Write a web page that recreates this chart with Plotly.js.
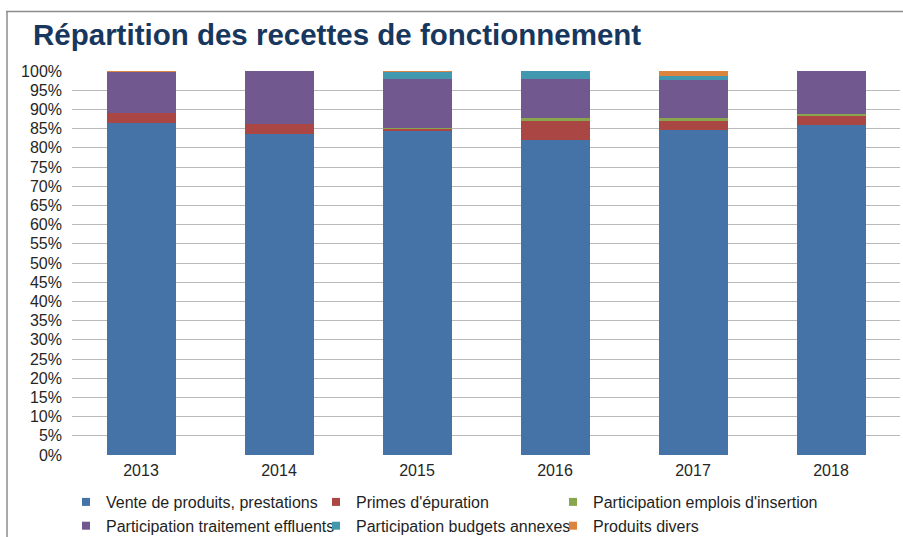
<!DOCTYPE html>
<html>
<head>
<meta charset="utf-8">
<script src="https://cdn.plot.ly/plotly-3.0.1.min.js"></script>
<style>html,body{margin:0;padding:0;background:#fff;}#chart{width:903px;height:537px;}</style>
</head>
<body>
<div id="chart"></div>
<script>
const years = ['2013', '2014', '2015', '2016', '2017', '2018'];
const venteProduits = [86.5, 83.6, 84.4, 82.1, 84.7, 86.0];
const primesEpuration = [2.6, 2.6, 0.4, 5.0, 2.4, 2.4];
const emploisInsertion = [0.0, 0.0, 0.4, 0.6, 0.6, 0.5];
const traitementEffluents = [10.6, 13.8, 12.8, 10.1, 9.9, 11.1];
const budgetsAnnexes = [0.0, 0.0, 1.7, 2.1, 1.1, 0.0];
const produitsDivers = [0.3, 0.0, 0.3, 0.1, 1.3, 0.0];
const yTicks = [0,5,10,15,20,25,30,35,40,45,50,55,60,65,70,75,80,85,90,95,100];

const series = [
  {name: 'Vente de produits, prestations', y: venteProduits, color: '#4572A7', legend: 'legend'},
  {name: "Primes d'épuration", y: primesEpuration, color: '#AA4643', legend: 'legend2'},
  {name: "Participation emplois d'insertion", y: emploisInsertion, color: '#89A54E', legend: 'legend3'},
  {name: 'Participation traitement effluents', y: traitementEffluents, color: '#71588F', legend: 'legend'},
  {name: 'Participation budgets annexes', y: budgetsAnnexes, color: '#4198AF', legend: 'legend2'},
  {name: 'Produits divers', y: produitsDivers, color: '#DB843D', legend: 'legend3'}
];

const barTraces = series.map(s => ({
  type: 'bar', x: years, y: s.y, name: s.name, legendgroup: s.name,
  marker: {color: s.color, line: {width: 0}}, showlegend: false
}));
// legend-only keys (small squares, as in the original); their point lies below the visible range and is clipped
const keyTraces = series.map(s => ({
  type: 'scatter', mode: 'markers', x: [years[0]], y: [-50], name: s.name, legendgroup: s.name,
  legend: s.legend, cliponaxis: true, marker: {symbol: 'square', size: 8, color: s.color},
  showlegend: true, hoverinfo: 'skip'
}));

const baseLegend = {orientation: 'v', xref: 'container', xanchor: 'left', yref: 'container', yanchor: 'top',
  y: 1 - 485/537, font: {size: 16, color: '#1F1F1F'}, itemwidth: 30, tracegroupgap: 3, bgcolor: 'rgba(0,0,0,0)', traceorder: 'normal'};

const layout = {
  width: 903, height: 537,
  barmode: 'stack', bargap: 0.5,
  paper_bgcolor: '#fff', plot_bgcolor: '#fff',
  margin: {l: 72, r: 3, t: 70.5, b: 82, autoexpand: false},
  font: {family: 'Arial, Liberation Sans, sans-serif', size: 16, color: '#262626'},
  title: {text: 'Répartition des recettes de fonctionnement', x: 33/903, xanchor: 'left', xref: 'container',
          y: 1 - 35/537, yanchor: 'middle', yref: 'container',
          font: {family: 'Arial, Liberation Sans, sans-serif', size: 29.5, color: '#17375E', weight: 'bold'}},
  xaxis: {type: 'category', showgrid: false, showline: false, zeroline: false, ticks: '',
          ticklabelstandoff: 4, tickfont: {size: 16}},
  yaxis: {range: [0, 100], autorange: false, tickvals: yTicks, ticktext: yTicks.map(v => v + '%'),
          showgrid: true, gridcolor: '#BABABA', gridwidth: 1, zeroline: false, showline: false,
          ticks: '', ticklabelstandoff: 9, tickfont: {size: 16}},
  legend: Object.assign({}, baseLegend, {x: 66/903}),
  legend2: Object.assign({}, baseLegend, {x: 316/903}),
  legend3: Object.assign({}, baseLegend, {x: 553/903}),
  shapes: [
    {type: 'line', xref: 'paper', yref: 'paper', x0: (6-72)/828, x1: (903-72)/828, y0: (455-11)/384.5, y1: (455-11)/384.5,
     line: {color: '#8C8C8C', width: 1.5}},
    {type: 'line', xref: 'paper', yref: 'paper', x0: (7-72)/828, x1: (7-72)/828, y0: (455-11)/384.5, y1: (455-540)/384.5,
     line: {color: '#8C8C8C', width: 1.5}}
  ],
  showlegend: true
};

Plotly.newPlot('chart', barTraces.concat(keyTraces), layout, {displayModeBar: false, staticPlot: true});
</script>
</body>
</html>
